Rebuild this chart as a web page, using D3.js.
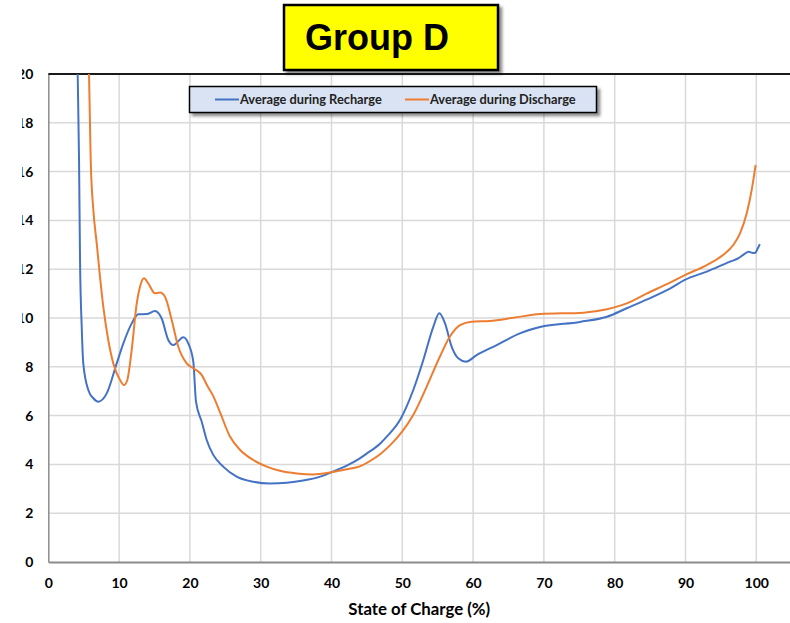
<!DOCTYPE html>
<html>
<head>
<meta charset="utf-8">
<script src="https://cdn.jsdelivr.net/npm/d3@7"></script>
<style>
	body { margin: 0; background: #fff; }
	.chart-container { width: 790px; height: 623px; overflow: hidden; }
	text { font-family: Lato, "Open Sans", sans-serif; }
</style>
</head>
<body>
<div class="chart-container"><svg id="chart"></svg></div>
<script>
// values
const rechargeSoc = [4.1, 4.15, 4.34, 4.48, 4.72, 4.94, 5.65, 6.36, 7.06, 8.25, 9.66, 10.6, 11.78, 12.71, 13.9, 15.07, 16.0, 16.95, 17.66, 19.07, 19.77, 20.48, 20.86, 21.67, 22.37, 23.3, 24.7, 26.6, 28.95, 31.3, 33.7, 36.0, 38.4, 40.0, 42.15, 44.0, 45.0, 46.85, 48.0, 49.67, 51.55, 52.97, 54.38, 55.23, 56.03, 56.98, 57.9, 59.0, 60.5, 63.33, 66.6, 69.45, 75.1, 78.9, 81.7, 84.5, 87.8, 89.9, 93.0, 96.3, 97.5, 98.3, 98.9, 99.3, 99.8, 100.2, 100.5];
const rechargeVal = [21, 20, 16.5, 12.4, 9.64, 8.14, 7.05, 6.71, 6.57, 6.91, 8.14, 8.96, 9.78, 10.15, 10.16, 10.29, 9.99, 9.1, 8.89, 9.21, 8.96, 8.21, 6.57, 5.75, 5.0, 4.39, 3.91, 3.5, 3.29, 3.22, 3.25, 3.34, 3.5, 3.68, 3.95, 4.25, 4.45, 4.85, 5.2, 5.82, 7.05, 8.28, 9.64, 10.19, 9.78, 8.82, 8.35, 8.21, 8.48, 8.89, 9.37, 9.63, 9.84, 10.05, 10.4, 10.75, 11.2, 11.56, 11.9, 12.31, 12.45, 12.62, 12.72, 12.68, 12.66, 12.85, 13.03];

const dischargeSoc = [5.7, 5.75, 5.99, 6.36, 6.84, 7.3, 7.77, 8.47, 9.18, 10.13, 10.69, 11.16, 11.78, 12.49, 12.95, 13.52, 14.12, 15.07, 15.78, 16.48, 17.43, 18.36, 19.55, 20.48, 21.67, 22.5, 23.3, 24.3, 25.66, 27.1, 28.95, 30.85, 32.7, 35.1, 37.4, 40.0, 42.15, 44.0, 45.5, 47.0, 48.5, 50.0, 51.5, 53.45, 55.3, 56.7, 58.15, 59.8, 62.4, 65.7, 69.45, 75.6, 78.9, 81.7, 84.5, 87.8, 89.9, 93.0, 95.3, 96.75, 97.7, 98.65, 99.35, 99.9];
const dischargeVal = [21, 20, 16.48, 14.43, 13.06, 11.69, 10.46, 9.1, 8.14, 7.46, 7.25, 7.46, 8.69, 10.6, 11.28, 11.63, 11.42, 11.01, 11.04, 10.87, 9.92, 8.82, 8.14, 7.94, 7.66, 7.2, 6.8, 6.1, 5.14, 4.59, 4.18, 3.91, 3.74, 3.63, 3.59, 3.68, 3.8, 3.92, 4.15, 4.45, 4.85, 5.35, 6.0, 7.19, 8.41, 9.23, 9.71, 9.85, 9.88, 10.01, 10.16, 10.22, 10.36, 10.6, 11.0, 11.45, 11.76, 12.17, 12.58, 12.99, 13.47, 14.29, 15.25, 16.27];

const xTicks = [0, 10, 20, 30, 40, 50, 60, 70, 80, 90, 100];
const yTicks = [0, 2, 4, 6, 8, 10, 12, 14, 16, 18, 20];
const seriesNames = ["Average during Recharge", "Average during Discharge"];
const seriesColors = ["#4472c4", "#ed7d31"];
const chartTitle = "Group D";
const xTitle = "State of Charge (%)";

const width = 790, height = 623;
const margin = { top: 74, right: 0, bottom: 61, left: 48 };

function drawChart() {
	const svg = d3.select("#chart").attr("width", width).attr("height", height);

	const x = d3.scaleLinear().domain([0, 105]).range([48.3, 48.3 + 7.08 * 105]);
	const y = d3.scaleLinear().domain([0, 20]).range([height - margin.bottom, margin.top]);

	const defs = svg.append("defs");
	defs.append("clipPath").attr("id", "plot-clip")
		.append("rect")
		.attr("x", x(0)).attr("y", y(20))
		.attr("width", width - x(0)).attr("height", y(0) - y(20));
	// the source picture is cut off just left of the y labels
	defs.append("clipPath").attr("id", "ylab-clip")
		.append("rect").attr("x", 22).attr("y", 0).attr("width", 60).attr("height", height);
	const shadow = defs.append("filter").attr("id", "shadow")
		.attr("x", "-10%").attr("y", "-10%").attr("width", "130%").attr("height", "150%");
	shadow.append("feDropShadow")
		.attr("dx", 3).attr("dy", 3).attr("stdDeviation", 1.5)
		.attr("flood-color", "#000").attr("flood-opacity", 0.45);

	// gridlines
	svg.append("g")
		.selectAll("line")
		.data(xTicks.slice(1))
		.join("line")
		.attr("x1", (d) => x(d)).attr("x2", (d) => x(d))
		.attr("y1", y(20)).attr("y2", y(0))
		.attr("stroke", "#d9d9d9").attr("stroke-width", 1.5);
	svg.append("g")
		.selectAll("line")
		.data(yTicks.slice(1, -1))
		.join("line")
		.attr("x1", x(0)).attr("x2", width)
		.attr("y1", (d) => y(d)).attr("y2", (d) => y(d))
		.attr("stroke", "#d9d9d9").attr("stroke-width", 1.5);

	// axes
	const xAxis = svg.append("g")
		.attr("transform", "translate(0," + y(0) + ")")
		.call(d3.axisBottom(x).tickValues(xTicks).tickSize(0).tickPadding(16));
	xAxis.select(".domain").attr("stroke", "#8c8c8c").attr("stroke-width", 2);
	xAxis.selectAll("text").attr("font-size", 14).attr("font-weight", "bold").attr("fill", "#000")
		.attr("font-family", null);

	const yWrap = svg.append("g").attr("clip-path", "url(#ylab-clip)");
	const yAxis = yWrap.append("g")
		.attr("transform", "translate(" + x(0) + ",0)")
		.call(d3.axisLeft(y).tickValues(yTicks).tickSize(0).tickPadding(15));
	yAxis.select(".domain").attr("stroke", "#8c8c8c").attr("stroke-width", 1.5);
	yAxis.selectAll("text").attr("font-size", 14).attr("font-weight", "bold").attr("fill", "#000")
		.attr("font-family", null);

	svg.append("line")
		.attr("x1", x(0)).attr("x2", width)
		.attr("y1", y(20)).attr("y2", y(20))
		.attr("stroke", "#1a1a1a").attr("stroke-width", 2);

	// series
	const line = d3.line()
		.x((d) => x(d[0]))
		.y((d) => y(d[1]))
		.curve(d3.curveMonotoneX);
	const series = [
		d3.zip(rechargeSoc, rechargeVal),
		d3.zip(dischargeSoc, dischargeVal),
	];
	svg.append("g")
		.attr("clip-path", "url(#plot-clip)")
		.selectAll("path")
		.data(series)
		.join("path")
		.attr("d", line)
		.attr("fill", "none")
		.attr("stroke", (d, i) => seriesColors[i])
		.attr("stroke-width", 2);

	svg.append("text")
		.attr("x", x(52.4)).attr("y", 615)
		.attr("text-anchor", "middle")
		.attr("font-size", 16.8).attr("font-weight", "bold")
		.text(xTitle);

	// legend
	const legend = svg.append("g");
	legend.append("rect")
		.attr("x", 189.5).attr("y", 86.5).attr("width", 407).attr("height", 26)
		.attr("fill", "#dae3f3").attr("stroke", "#000").attr("stroke-width", 1.5)
		.attr("filter", "url(#shadow)");
	const legendX = [215, 405];
	seriesNames.forEach((name, i) => {
		legend.append("line")
			.attr("x1", legendX[i]).attr("x2", legendX[i] + 24)
			.attr("y1", 99.5).attr("y2", 99.5)
			.attr("stroke", seriesColors[i]).attr("stroke-width", 2);
		legend.append("text")
			.attr("x", legendX[i] + 25).attr("y", 104)
			.attr("font-size", 12.8).attr("font-weight", "bold").attr("fill", "#222")
			.text(name);
	});

	// title box
	svg.append("rect")
		.attr("x", 284).attr("y", 5).attr("width", 214).attr("height", 65)
		.attr("fill", "#ffff00").attr("stroke", "#000").attr("stroke-width", 2.5)
		.attr("filter", "url(#shadow)");
	svg.append("text")
		.attr("x", 377).attr("y", 50)
		.attr("text-anchor", "middle")
		.attr("font-size", 36).attr("font-weight", "bold")
		.style("font-family", "'Liberation Sans', Arial, sans-serif")
		.text(chartTitle);
}

drawChart();
</script>
</body>
</html>
